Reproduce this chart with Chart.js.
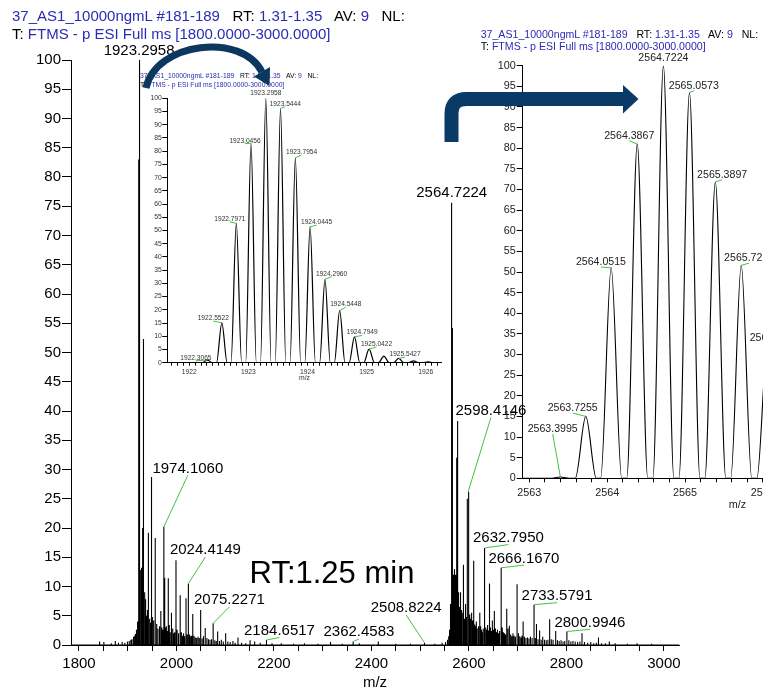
<!DOCTYPE html>
<html><head><meta charset="utf-8">
<script src="https://cdn.jsdelivr.net/npm/chart.js@4.4.1/dist/chart.umd.min.js"></script>
<style>
html,body{margin:0;padding:0;width:763px;height:689px;overflow:hidden;background:#fff;font-family:"Liberation Sans",Arial,sans-serif;}
.box{position:absolute;}
.hdr{position:absolute;white-space:pre;color:#000;line-height:1;font-family:"Liberation Sans",Arial,sans-serif;}
.b{color:#2b2bb3;}
#rt{position:absolute;left:232px;top:554px;width:200px;text-align:center;font-size:31px;line-height:1.2;color:#000;}
svg{position:absolute;left:0;top:0;}
</style></head><body>
<div class="box" style="left:0;top:0;width:763px;height:689px;z-index:1"><canvas id="main" width="763" height="689"></canvas></div>
<div class="box" style="left:130px;top:85px;width:330px;height:297px;z-index:2"><canvas id="ins1" width="330" height="297"></canvas></div>
<div class="box" style="left:470px;top:48px;width:520px;height:464px;z-index:2"><canvas id="ins2" width="520" height="464"></canvas></div>

<div class="hdr" style="left:12px;top:7.5px;font-size:15px;z-index:3"><span class="b">37_AS1_10000ngmL #181-189</span>   RT: <span class="b">1.31-1.35</span>   AV: <span class="b">9</span>   NL: </div>
<div class="hdr" style="left:12px;top:25.8px;font-size:15px;z-index:3">T: <span class="b">FTMS - p ESI Full ms [1800.0000-3000.0000]</span></div>

<div class="hdr" style="left:140px;top:73.3px;font-size:6.8px;z-index:3"><span class="b">37_AS1_10000ngmL #181-189</span>   RT: <span class="b">1.31-1.35</span>   AV: <span class="b">9</span>   NL: </div>
<div class="hdr" style="left:140px;top:82.3px;font-size:6.8px;z-index:3">T: <span class="b">FTMS - p ESI Full ms [1800.0000-3000.0000]</span></div>

<div class="hdr" style="left:480.7px;top:28.7px;font-size:10.6px;z-index:3"><span class="b">37_AS1_10000ngmL #181-189</span>   RT: <span class="b">1.31-1.35</span>   AV: <span class="b">9</span>   NL: </div>
<div class="hdr" style="left:480.7px;top:40.7px;font-size:10.6px;z-index:3">T: <span class="b">FTMS - p ESI Full ms [1800.0000-3000.0000]</span></div>

<div id="rt" style="z-index:3">RT:1.25 min</div>

<svg width="763" height="689" style="z-index:5">
  <path d="M146,88 C156,42 242,32 262,72" fill="none" stroke="#0c375f" stroke-width="7"/>
  <polygon points="269.5,86 270,67 254,76.5" fill="#0c375f"/>
  <path d="M451.5,142 L451.5,114 Q451.5,99 466.5,99 L624,99" fill="none" stroke="#0a3a66" stroke-width="14"/>
  <polygon points="623,85 638.5,99 623,113.5" fill="#0a3a66"/>
</svg>

<script>
// ---------------- DATA ----------------
// Main spectrum: centroid peaks [m/z, relative abundance]
const peaksBelow1922 = [[1842.3,0.6],[1851.0,0.5],[1866.2,0.3],[1874.5,0.7],[1881.0,0.4],[1888.6,0.5],[1894.2,0.4],[1899.5,0.6],[1903.1,0.7],[1906.4,0.9],[1908.7,1.0],[1910.9,1.2],[1912.6,1.4],[1914.3,1.6],[1915.8,1.9],[1917.2,2.2],[1918.4,2.6],[1919.6,3.2],[1920.7,4.0],[1921.6,5.0]];
// isotope cluster of 1923.2958 (also shown in inset 1)
const inset1Mz  = [1922.3065,1922.5522,1922.7971,1923.0456,1923.2958,1923.5444,1923.7954,1924.0445,1924.2960,1924.5448,1924.7949,1925.0422,1925.2920,1925.5427,1925.7930,1926.0400];
const inset1Int = [1.0,15.1,52.7,83.0,100,96.2,77.5,51.4,31.5,19.7,9.8,5.1,2.5,1.6,0.7,0.3];
const peaksRegion1 = [[1926.6,12.8],[1927.7,11.5],[1928.8,13.2],[1929.9,10.5],[1931.0,20.0],[1931.5,30.0],[1931.85,52.3],[1932.2,42.4],[1932.6,24.0],[1933.0,12.0],[1934.1,9.0],[1935.2,7.8],[1936.6,7.8],[1937.8,5.0],[1939.0,4.2],[1940.4,6.0],[1942.4,19.2],[1944.2,4.5],[1945.6,3.6],[1947.0,3.8],[1948.8,28.7],[1950.6,4.8],[1952.2,3.5],[1953.8,4.2],[1956.4,18.3],[1958.4,3.2],[1960.0,3.6],[1962.0,2.8],[1964.2,3.2],[1966.0,2.4],[1967.9,5.8],[1970.0,3.0],[1972.0,2.6],[1974.1060,20.2],[1975.8,11.5],[1977.6,3.0],[1979.3,3.2],[1981.0,2.4],[1983.2,11.4],[1985.2,3.4],[1987.0,2.2],[1988.8,2.8],[1990.3,5.5],[1992.3,2.8],[1994.5,2.0],[1996.5,2.2],[1999.0,14.5],[2001.2,2.6],[2003.2,1.8],[2005.0,2.0],[2007.6,8.5],[2010.0,2.2],[2012.4,1.6],[2014.6,2.0],[2016.8,1.5],[2019.6,8.0],[2022.0,1.8],[2024.4149,10.5],[2026.8,1.8],[2029.2,1.5],[2031.2,1.6],[2033.4,5.3],[2036.0,1.6],[2038.6,1.3],[2041.4,1.2],[2044.2,1.4],[2046.8,1.2],[2049.6,6.0],[2052.6,1.1],[2055.4,1.5],[2059.0,2.9],[2062.4,1.2],[2065.6,1.0],[2068.8,0.9],[2072.0,1.0],[2075.2271,3.7],[2078.6,0.8],[2081.6,0.7],[2084.5,2.3],[2088.2,0.7],[2092.0,0.9],[2096.0,0.6],[2100.9,2.0],[2105.4,0.6],[2110.2,0.5],[2115.8,0.7],[2120.4,0.4],[2126.2,1.3],[2133.6,0.4],[2142.0,0.3],[2151.0,0.8],[2160.4,0.6],[2171.8,0.4],[2184.6517,0.85],[2196.0,0.3],[2215.0,0.3],[2240.2,0.2],[2262.6,0.3],[2290.4,0.2],[2316.0,0.5],[2340.0,0.2],[2362.4583,0.6],[2375.0,0.3],[2414.0,0.6],[2450.0,0.2],[2480.0,0.2],[2508.8224,0.4],[2530.0,0.2],[2545.0,0.4]];
const peaksRegion2 = [[2552.0,0.5],[2556.0,0.9],[2558.5,1.5],[2560.3,2.6],[2561.6,4.5],[2562.6,7.0],[2563.7255,11.3],[2564.0515,38.6],[2564.3867,61.2],[2564.7224,75.6],[2565.0573,70.7],[2565.3897,54.2],[2565.7226,39.0],[2566.0586,24.5],[2566.3910,14.4],[2566.7250,7.6],[2567.5,9.0],[2568.6,12.0],[2569.7,10.0],[2570.8,13.0],[2572.0,8.5],[2573.1,12.0],[2574.2,32.0],[2575.4,11.0],[2576.8,38.3],[2578.0,9.0],[2579.2,7.5],[2580.5,6.5],[2581.8,9.0],[2583.4,8.9],[2584.8,6.0],[2586.2,5.5],[2587.9,13.7],[2589.3,5.5],[2590.7,4.5],[2592.1,7.0],[2593.6,4.5],[2595.0,4.8],[2596.7,25.0],[2598.4146,26.2],[2600.1,6.5],[2601.6,5.2],[2603.1,4.5],[2604.6,5.5],[2606.1,3.8],[2607.5,4.2],[2608.9,14.4],[2610.4,4.5],[2612.0,3.5],[2613.6,3.2],[2615.2,4.0],[2617.0,2.8],[2618.8,3.2],[2620.5,2.5],[2622.3,5.5],[2624.1,3.2],[2625.9,2.6],[2627.6,2.2],[2629.4,2.8],[2631.0,3.6],[2632.7950,16.6],[2634.6,3.0],[2636.4,2.6],[2638.3,3.4],[2640.2,2.5],[2642.2,10.5],[2644.1,3.0],[2646.1,2.4],[2648.1,4.2],[2650.1,2.6],[2652.2,5.8],[2654.3,2.8],[2656.5,2.2],[2658.6,2.6],[2660.8,2.0],[2663.0,2.4],[2666.1670,13.2],[2668.4,3.0],[2670.6,2.2],[2672.9,2.0],[2675.1,1.8],[2677.6,6.2],[2680.1,2.8],[2683.0,3.3],[2685.6,1.8],[2688.0,1.5],[2690.4,2.0],[2692.8,1.6],[2695.4,1.4],[2698.8,10.4],[2701.6,2.0],[2704.2,1.5],[2706.8,1.3],[2709.0,1.6],[2711.2,4.0],[2714.0,1.4],[2717.0,1.2],[2720.2,1.3],[2723.2,1.1],[2726.2,1.4],[2729.6,1.2],[2733.5791,6.9],[2736.2,1.2],[2738.6,3.6],[2741.8,1.0],[2745.0,2.5],[2748.2,0.9],[2751.4,1.4],[2755.0,0.9],[2758.6,0.8],[2762.0,0.9],[2765.6,4.4],[2769.0,1.0],[2772.6,0.9],[2778.0,2.4],[2781.6,0.8],[2785.2,0.7],[2789.0,0.8],[2793.0,0.6],[2796.6,0.7],[2800.9946,2.3],[2805.0,0.8],[2809.2,0.6],[2813.4,0.7],[2818.0,0.6],[2823.0,0.5],[2827.6,0.6],[2832.0,2.0],[2837.0,0.5],[2843.6,0.4],[2850.0,0.5],[2856.0,0.3],[2861.4,0.4],[2865.8,1.3],[2872.0,0.3],[2880.0,0.3],[2888.0,0.6],[2900.0,0.3],[2925.0,0.2],[2945.0,0.3],[2975.0,0.2]];
const mainLabelMz = [1923.2958,1974.1060,2024.4149,2075.2271,2184.6517,2362.4583,2508.8224,2564.7224,2598.4146,2632.7950,2666.1670,2733.5791,2800.9946];
const mainXTickLabels = [1800,2000,2200,2400,2600,2800,3000];
const yTickLabels = [0,5,10,15,20,25,30,35,40,45,50,55,60,65,70,75,80,85,90,95,100];

// Inset 1 labels / ticks
const inset1LabelMz = [1922.3065,1922.5522,1922.7971,1923.0456,1923.2958,1923.5444,1923.7954,1924.0445,1924.2960,1924.5448,1924.7949,1925.0422,1925.5427];
const inset1XTickLabels = [1922,1923,1924,1925,1926];

// Inset 2: isotope cluster of 2564.7224
const inset2Mz  = [2563.3995,2563.7255,2564.0515,2564.3867,2564.7224,2565.0573,2565.3897,2565.7226,2566.0586,2566.3910,2566.7250,2567.0590,2567.3920,2567.7260,2568.0600];
const inset2Int = [0.3,15.0,51.0,81.0,100,93.5,71.8,51.6,32.3,19.0,10.0,5.0,2.5,1.0,0.4];
const inset2LabelMz = [2563.3995,2563.7255,2564.0515,2564.3867,2564.7224,2565.0573,2565.3897,2565.7226,2566.0586];
const inset2XTickLabels = [2563,2564,2565,2566,2567,2568];

// ---------------- LAYOUT / STYLE (label offsets in px: dx, dy, connector) ----------------
const mainLabelLayout = [[0,-9.5,0],[24,-58.4,1],[17,-33.3,1],[16.3,-23.3,1],[13,-9.3,1],[5.8,-9.2,1],[-18.3,-34.4,1],[0,-9.5,0],[22.8,-81,1],[23.5,-10,1],[22.7,-9.4,1],[23,-8.7,1],[23,-9,1]];
const inset1LabelLayout = [[-11.4,-2.3,1],[-8.6,-4.7,1],[-6.4,-4.5,1],[-6,-2.5,1],[0,-5,0],[4.7,-4.6,1],[6.2,-5.8,1],[6.5,-4.6,1],[6.6,-5.7,1],[6.1,-6.5,1],[7.6,-4.3,1],[7.4,-5.2,1],[6.4,-4.4,1]];
const inset2LabelLayout = [[-7.7,-47.7,1],[-13.1,-8.1,1],[-10.2,-5.6,1],[-8,-8.1,1],[0,-7.4,0],[4.4,-6.5,1],[6.8,-7.1,1],[7.9,-7.1,1],[7.3,-7,1]];
const GREEN = '#45c045';
const FONT = '"Liberation Sans", Arial, sans-serif';

// ---------------- BUILD ----------------
const mainPeaks = [].concat(peaksBelow1922, inset1Mz.map((m,i)=>[m,inset1Int[i]]), peaksRegion1, peaksRegion2).sort((a,b)=>a[0]-b[0]);
function stickPoints(peaks, xmin, xmax){
  const pts=[{x:xmin,y:0}];
  peaks.forEach(([m,h])=>{pts.push({x:m,y:0},{x:m,y:h},{x:m,y:0});});
  pts.push({x:xmax,y:0});
  return pts;
}
function profilePoints(mz, ints, half, xmin, xmax){
  const pts=[{x:xmin,y:0}];
  mz.forEach((m,i)=>{pts.push({x:m-half,y:0},{x:m,y:ints[i]},{x:m+half,y:0});});
  pts.push({x:xmax,y:0});
  return pts;
}
function lookup(mzArr, intArr, m){ const i = mzArr.indexOf(m); return intArr[i]; }
function makeLabelPlugin(items, size, color){
  return {
    id:'peakLabels',
    afterDatasetsDraw(chart){
      const {ctx, scales:{x,y}} = chart;
      ctx.save();
      ctx.font = size + 'px ' + FONT;
      ctx.textAlign='center'; ctx.textBaseline='middle';
      items.forEach(it=>{
        const px=x.getPixelForValue(it.mz), py=y.getPixelForValue(it.h);
        const lx=px+it.dx, ly=py+it.dy;
        if(it.line){
          ctx.strokeStyle=GREEN; ctx.lineWidth=1;
          ctx.beginPath(); ctx.moveTo(lx, ly+size*0.45); ctx.lineTo(px,py); ctx.stroke();
        }
        ctx.fillStyle=color; ctx.fillText(it.mz.toFixed(4), lx, ly);
      });
      ctx.restore();
    }
  };
}
function fmtTick(labels){
  return function(value){
    const r = Math.round(Number(value)*1000)/1000;
    return labels.indexOf(r) >= 0 ? String(r) : '';
  };
}
function axisX(min,max,step,labels,fs,tickLen,pad,height,titleFs,titleLH,color){
  const f = fmtTick(labels);
  return {type:'linear',position:'bottom',min,max,bounds:'data',
    ticks:{stepSize:step,includeBounds:false,autoSkip:false,maxRotation:0,minRotation:0,padding:pad,color,display:true,
      font:{family:FONT,size:fs},callback:f},
    grid:{display:true,drawOnChartArea:false,drawTicks:true,tickLength:tickLen,color:'#000',lineWidth:1},
    border:{display:true,color:'#000',width:1},
    title:{display:true,text:'m/z',color,font:{family:FONT,size:titleFs,lineHeight:titleLH},padding:0},
    afterBuildTicks:(s)=>{
      const out=[];
      for(let k=Math.ceil(min/step-1e-6); k*step<=max+1e-6; k++) out.push({value:Math.round(k*step*1000)/1000});
      s.ticks=out;
    },
    afterTickToLabelConversion:(s)=>{ s.ticks.forEach(t=>{ t.label = f(t.value); }); },
    afterFit:(s)=>{s.height=height;}
  };
}
function axisY(fs,tickLen,pad,width,color){
  return {type:'linear',min:0,max:100,
    ticks:{stepSize:5,autoSkip:false,padding:pad,color,font:{family:FONT,size:fs},
      callback:(v)=>yTickLabels.includes(v)?String(v):''},
    grid:{display:true,drawOnChartArea:false,drawTicks:true,tickLength:tickLen,color:'#000',lineWidth:1},
    border:{display:true,color:'#000',width:1},
    afterFit:(s)=>{s.width=width;}
  };
}
const common = {responsive:false,animation:false,devicePixelRatio:1,events:[],
  plugins:{legend:{display:false},tooltip:{enabled:false}}};

// Main chart
const MX=[1783.6,3031];
new Chart(document.getElementById('main'),{
  type:'line',
  data:{datasets:[{data:stickPoints(mainPeaks,MX[0],MX[1]),borderColor:'#000',borderWidth:1.1,pointRadius:0,tension:0,fill:false}]},
  options:Object.assign({},common,{
    layout:{padding:{left:0,top:60,right:84,bottom:0}},
    scales:{x:axisX(MX[0],MX[1],50,mainXTickLabels,15,6,4,44,15,0.8,'#000'),y:axisY(15,9,1,71,'#000')}
  }),
  plugins:[makeLabelPlugin(mainLabelMz.map((m,i)=>({mz:m,h:mainPeaks.find(p=>p[0]===m)[1],dx:mainLabelLayout[i][0],dy:mainLabelLayout[i][1],line:mainLabelLayout[i][2]})),15,'#000')]
});

// Inset 1
const I1=[1921.63,1926.27];
new Chart(document.getElementById('ins1'),{
  type:'line',
  data:{datasets:[{data:profilePoints(inset1Mz,inset1Int,0.09,I1[0],I1[1]),borderColor:'#000',borderWidth:1.2,pointRadius:0,cubicInterpolationMode:'monotone',fill:false}]},
  options:Object.assign({},common,{
    layout:{padding:{left:0,top:13.3,right:18.3,bottom:0}},
    scales:{x:axisX(I1[0],I1[1],0.1,inset1XTickLabels,6.7,3,2,19.3,6.8,1.2,'#333'),y:axisY(6.8,5,0.5,37.3,'#333')}
  }),
  plugins:[makeLabelPlugin(inset1LabelMz.map((m,i)=>({mz:m,h:lookup(inset1Mz,inset1Int,m),dx:inset1LabelLayout[i][0],dy:inset1LabelLayout[i][1],line:inset1LabelLayout[i][2]})),6.6,'#333')]
});

// Inset 2
const I2=[2562.915,2568.43];
new Chart(document.getElementById('ins2'),{
  type:'line',
  data:{datasets:[{data:profilePoints(inset2Mz,inset2Int,0.135,I2[0],I2[1]),borderColor:'#000',borderWidth:1.1,pointRadius:0,cubicInterpolationMode:'monotone',fill:false}]},
  options:Object.assign({},common,{
    layout:{padding:{left:0,top:17.7,right:38,bottom:0}},
    scales:{x:axisX(I2[0],I2[1],0.2,inset2XTickLabels,10.8,4,4,33.7,10.8,1.2,'#222'),y:axisY(10.8,6,1,52.7,'#222')}
  }),
  plugins:[makeLabelPlugin(inset2LabelMz.map((m,i)=>({mz:m,h:lookup(inset2Mz,inset2Int,m),dx:inset2LabelLayout[i][0],dy:inset2LabelLayout[i][1],line:inset2LabelLayout[i][2]})),10.6,'#222')]
});
</script>
</body></html>
